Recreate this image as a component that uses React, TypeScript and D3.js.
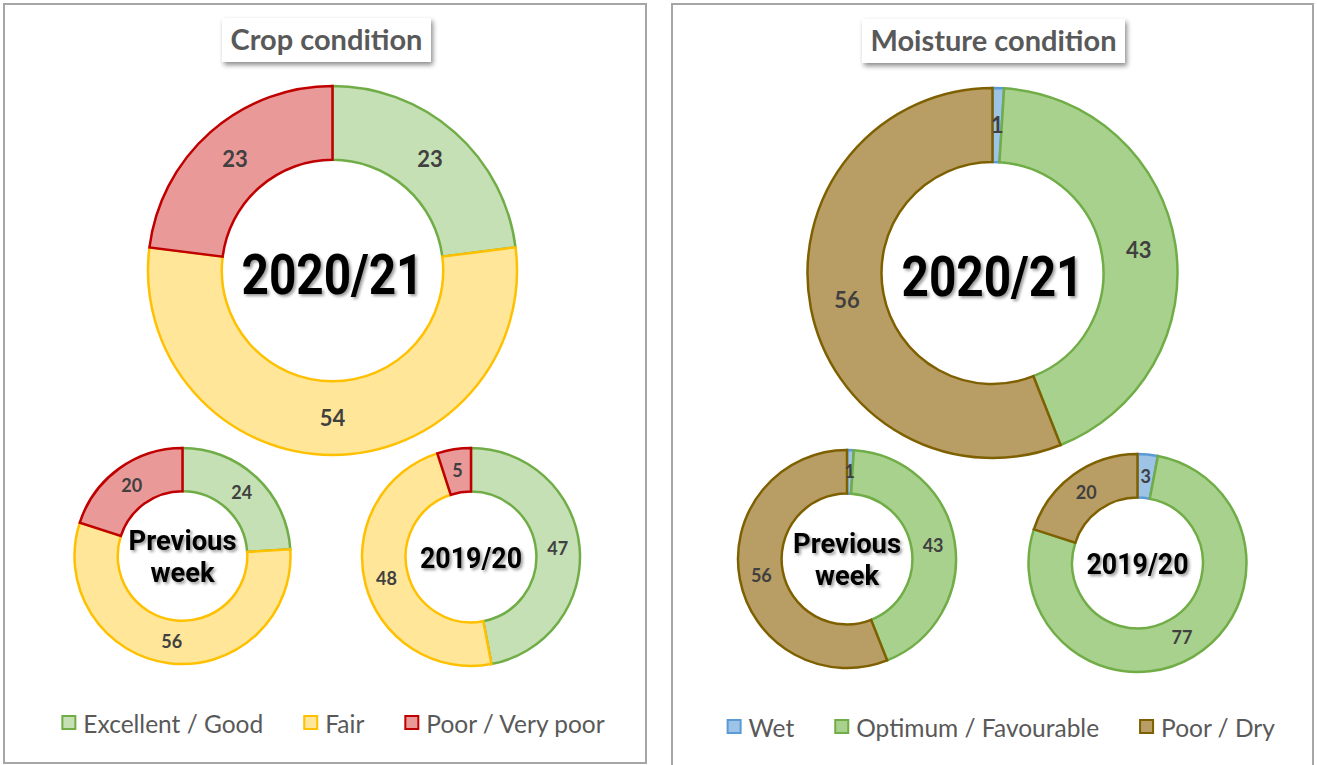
import React from 'react';
import * as d3 from 'd3';

// crop condition (percent of area)
const cropCategories = ['Excellent / Good', 'Fair', 'Poor / Very poor'];
const cropFills = ['#c5e0b4', '#ffe699', '#ea9999'];
const cropStrokes = ['#70ad47', '#ffc000', '#c00000'];
const crop2020 = [23, 54, 23];
const cropPrevWeek = [24, 56, 20];
const crop2019 = [47, 48, 5];

// moisture condition (percent of area)
const moistureCategories = ['Wet', 'Optimum / Favourable', 'Poor / Dry'];
const moistureFills = ['#9dc3e6', '#a9d18e', '#b89e64'];
const moistureStrokes = ['#5b9bd5', '#70ad47', '#7f6000'];
const moisture2020 = [1, 43, 56];
const moisturePrevWeek = [1, 43, 56];
const moisture2019 = [3, 77, 20];

const W = 1317;
const H = 765;
const FONT = 'Lato, "Open Sans", sans-serif';
const CENTER_FONT = 'Roboto, "DejaVu Sans", sans-serif';
const LEGEND_SIZE = 24.5;

let canvas: HTMLCanvasElement | null = null;
const textWidth = (s: string, font: string) => {
  if (!canvas) canvas = document.createElement('canvas');
  const ctx = canvas.getContext('2d')!;
  ctx.font = font;
  return ctx.measureText(s).width;
};

type CenterLine = { text: string; dy: number; size: number; len: number };

const Donut = ({ cx, cy, r, values, fills, strokes, labelSize, lines }: {
  cx: number; cy: number; r: number; values: number[]; fills: string[]; strokes: string[];
  labelSize: number; lines: CenterLine[];
}) => {
  const pie = d3.pie<number>().sort(null).value((d) => d);
  const arcs = pie(values);
  const arc = d3.arc<d3.PieArcDatum<number>>().innerRadius(r * 0.6).outerRadius(r);
  return (
    <g transform={`translate(${cx},${cy})`}>
      {arcs.map((a, i) => (
        <path key={i} d={arc(a) || ''} fill={fills[i]} stroke={strokes[i]} strokeWidth={2.5} />
      ))}
      {arcs.map((a, i) => {
        const [x, y] = arc.centroid(a);
        return (
          <text key={'l' + i} x={x} y={y} dy="0.35em" textAnchor="middle" fontFamily={FONT}
            fontWeight={700} fontSize={labelSize} fill="#404040">{a.data}</text>
        );
      })}
      {lines.map((l, i) => (
        <text key={'c' + i} x={0} y={l.dy} textAnchor="middle" fontFamily={CENTER_FONT} fontWeight={700}
          fontSize={l.size} fill="#000" textLength={l.len} lengthAdjust="spacingAndGlyphs"
          filter="url(#txtShadow)">{l.text}</text>
      ))}
    </g>
  );
};

const Legend = ({ cx, y, names, fills, strokes }: {
  cx: number; y: number; names: string[]; fills: string[]; strokes: string[];
}) => {
  const font = `${LEGEND_SIZE}px ${FONT}`;
  const sq = 15, pad = 7, gap = 40;
  const widths = names.map((n) => sq + pad + textWidth(n, font));
  const total = d3.sum(widths) + gap * (names.length - 1);
  let x = cx - total / 2;
  const items = names.map((n, i) => {
    const x0 = x;
    x += widths[i] + gap;
    return (
      <g key={n} transform={`translate(${x0},${y})`}>
        <rect x={1} y={-17} width={sq - 2} height={sq - 2} fill={fills[i]} stroke={strokes[i]} strokeWidth={2} />
        <text x={sq + pad} y={0} fontFamily={FONT} fontSize={LEGEND_SIZE} fill="#595959">{n}</text>
      </g>
    );
  });
  return <g>{items}</g>;
};

const TitleBox = ({ x0, x1, y0, y1, text }: { x0: number; x1: number; y0: number; y1: number; text: string }) => (
  <g>
    <rect x={x0} y={y0} width={x1 - x0} height={y1 - y0} fill="#fff" filter="url(#boxShadow)" />
    <text x={(x0 + x1) / 2} y={y1 - 12} textAnchor="middle" fontFamily={FONT} fontWeight={700}
      fontSize={29} fill="#595959">{text}</text>
  </g>
);

const bigLines: CenterLine[] = [{ text: '2020/21', dy: 23, size: 56, len: 182 }];
const prevLines: CenterLine[] = [
  { text: 'Previous', dy: -6, size: 27, len: 108 },
  { text: 'week', dy: 26, size: 27, len: 64 },
];
const lastLines: CenterLine[] = [{ text: '2019/20', dy: 11, size: 30, len: 102 }];

export default function App() {
  return (
    <svg width={W} height={H} style={{ position: 'absolute', left: 0, top: 0, background: '#fff' }}>
      <defs>
        <filter id="boxShadow" x="-10%" y="-20%" width="130%" height="160%">
          <feDropShadow dx={2} dy={3} stdDeviation={2.5} floodColor="#000" floodOpacity={0.45} />
        </filter>
        <filter id="txtShadow" x="-10%" y="-20%" width="130%" height="160%">
          <feDropShadow dx={2} dy={2} stdDeviation={1.5} floodColor="#000" floodOpacity={0.4} />
        </filter>
      </defs>
      <rect x={0} y={0} width={W} height={H} fill="#fff" />

      {/* crop panel */}
      <rect x={4} y={4} width={642} height={759} fill="#fff" stroke="#a6a6a6" strokeWidth={2} />
      <TitleBox x0={222} x1={431} y0={18} y1={62} text="Crop condition" />
      <Donut cx={332.5} cy={270.5} r={184.5} values={crop2020} fills={cropFills} strokes={cropStrokes}
        labelSize={22} lines={bigLines} />
      <Donut cx={182.5} cy={556} r={108} values={cropPrevWeek} fills={cropFills} strokes={cropStrokes}
        labelSize={18} lines={prevLines} />
      <Donut cx={471} cy={557} r={109} values={crop2019} fills={cropFills} strokes={cropStrokes}
        labelSize={18} lines={lastLines} />
      <Legend cx={334} y={733} names={cropCategories} fills={cropFills} strokes={cropStrokes} />

      {/* moisture panel */}
      <rect x={672} y={4} width={641} height={775} fill="#fff" stroke="#a6a6a6" strokeWidth={2} />
      <TitleBox x0={862} x1={1125} y0={19} y1={63} text="Moisture condition" />
      <Donut cx={992.5} cy={273} r={185} values={moisture2020} fills={moistureFills} strokes={moistureStrokes}
        labelSize={22} lines={bigLines} />
      <Donut cx={847} cy={559} r={109} values={moisturePrevWeek} fills={moistureFills} strokes={moistureStrokes}
        labelSize={18} lines={prevLines} />
      <Donut cx={1137.5} cy={563} r={109} values={moisture2019} fills={moistureFills} strokes={moistureStrokes}
        labelSize={18} lines={lastLines} />
      <Legend cx={1001} y={737} names={moistureCategories} fills={moistureFills} strokes={moistureStrokes} />
    </svg>
  );
}
